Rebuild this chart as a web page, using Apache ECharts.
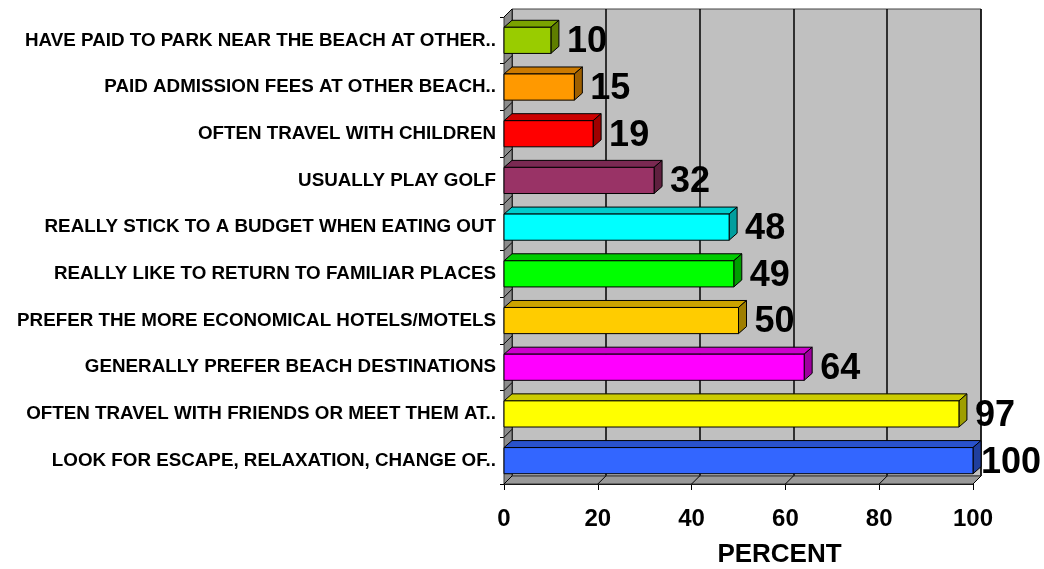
<!DOCTYPE html>
<html><head><meta charset="utf-8">
<script src="https://cdn.jsdelivr.net/npm/echarts@6/dist/echarts.min.js"></script>
<style>html,body{margin:0;padding:0;background:#fff}#c{width:1044px;height:569px}</style>
</head><body><div id="c"></div>
<script>
const categories = [
  "HAVE PAID TO PARK NEAR THE BEACH AT OTHER..",
  "PAID ADMISSION FEES AT OTHER BEACH..",
  "OFTEN TRAVEL WITH CHILDREN",
  "USUALLY PLAY GOLF",
  "REALLY STICK TO A BUDGET WHEN EATING OUT",
  "REALLY LIKE TO RETURN TO FAMILIAR PLACES",
  "PREFER THE MORE ECONOMICAL HOTELS/MOTELS",
  "GENERALLY PREFER BEACH DESTINATIONS",
  "OFTEN TRAVEL WITH FRIENDS OR MEET THEM AT..",
  "LOOK FOR ESCAPE, RELAXATION, CHANGE OF.."
];
const values = [10, 15, 19, 32, 48, 49, 50, 64, 97, 100];
const barColors = ["#99CC00", "#FF9900", "#FF0000", "#993366", "#00FFFF", "#00FF00", "#FFCC00", "#FF00FF", "#FFFF00", "#3366FF"];
const xTicks = [0, 20, 40, 60, 80, 100];
const xMin = 0, xMax = 100, xStep = 20;
const axisTitle = "PERCENT";

const FONT = '"Liberation Sans", Arial, sans-serif';
const DX = 8, DY = 8;      // wall depth
const BDX = 8, BDY = 7;    // bar depth
const chart = echarts.init(document.getElementById('c'), null, {renderer: 'canvas'});

function darken(hex, f) {
  const n = parseInt(hex.slice(1), 16);
  const r = Math.round(((n >> 16) & 255) * f), g = Math.round(((n >> 8) & 255) * f), b = Math.round((n & 255) * f);
  return 'rgb(' + r + ',' + g + ',' + b + ')';
}

function renderFrame(params, api) {
  const band = api.size([0, 1])[1];
  const top = api.coord([0, 0])[1] - band / 2;
  const bottom = api.coord([0, categories.length - 1])[1] + band / 2;
  const x0 = api.coord([xMin, 0])[0];
  const x1 = api.coord([xMax, 0])[0];
  const children = [];
  children.push({type: 'polygon', shape: {points: [[x0, top], [x0 + DX, top - DY], [x0 + DX, bottom - DY], [x0, bottom]]},
    style: {fill: '#8c8c8c', stroke: '#333', lineWidth: 1}});
  children.push({type: 'polygon', shape: {points: [[x0, bottom], [x1, bottom], [x1 + DX, bottom - DY], [x0 + DX, bottom - DY]]},
    style: {fill: '#999999', stroke: '#333', lineWidth: 1}});
  xTicks.forEach(t => {
    const x = api.coord([t, 0])[0];
    children.push({type: 'line', shape: {x1: x, y1: bottom, x2: x + DX, y2: bottom - DY}, style: {stroke: '#000', lineWidth: 1}});
  });
  for (let k = 0; k <= categories.length; k++) {
    const y = top + band * k;
    children.push({type: 'line', shape: {x1: x0, y1: y, x2: x0 + DX, y2: y - DY}, style: {stroke: '#000', lineWidth: 1}});
  }
  return {type: 'group', children};
}

function renderBar(params, api) {
  const v = api.value(0), i = api.value(1);
  const s = api.coord([0, i]);
  const e = api.coord([v, i]);
  const band = api.size([0, 1])[1];
  const h = band * 0.56;
  const y0 = s[1] - h / 2, y1 = s[1] + h / 2;
  const x0 = s[0], x1 = e[0];
  const c = barColors[params.dataIndex];
  const topC = darken(c, 0.8);
  const sideC = darken(c, 0.62);
  const txt = String(v);
  const fs = 36;
  const w = txt.length * 0.556 * fs;
  const lx = Math.min(x1 + BDX + 8, 1041 - w);
  return {type: 'group', children: [
    {type: 'polygon', shape: {points: [[x0, y0], [x1, y0], [x1 + BDX, y0 - BDY], [x0 + BDX, y0 - BDY]]},
      style: {fill: topC, stroke: '#000', lineWidth: 1}},
    {type: 'polygon', shape: {points: [[x1, y0], [x1 + BDX, y0 - BDY], [x1 + BDX, y1 - BDY], [x1, y1]]},
      style: {fill: sideC, stroke: '#000', lineWidth: 1}},
    {type: 'rect', shape: {x: x0, y: y0, width: x1 - x0, height: h},
      style: {fill: c, stroke: '#000', lineWidth: 1}},
    {type: 'text', x: lx, y: s[1] + 2, style: {text: txt, font: 'bold ' + fs + 'px ' + FONT, fill: '#000', align: 'left', verticalAlign: 'middle'}}
  ]};
}

const option = {
  animation: false,
  backgroundColor: '#ffffff',
  grid: [
    {left: 504, top: 17, width: 469, height: 467, containLabel: false, outerBoundsMode: 'none'},
    {left: 504 + DX, top: 17 - DY, width: 469, height: 467, show: true, backgroundColor: '#c0c0c0', borderColor: '#444', borderWidth: 1, z: 0, outerBoundsMode: 'none'}
  ],
  xAxis: [
    {gridIndex: 0, type: 'value', min: xMin, max: xMax, interval: xStep,
      axisLine: {show: true, lineStyle: {color: '#000', width: 1}},
      axisTick: {show: true, length: 6, lineStyle: {color: '#000'}},
      splitLine: {show: false},
      axisLabel: {fontFamily: FONT, fontWeight: 'bold', fontSize: 24, color: '#000', margin: 23},
      name: axisTitle, nameLocation: 'middle', nameGap: 58,
      nameTextStyle: {fontFamily: FONT, fontWeight: 'bold', fontSize: 26, color: '#000', padding: [0, 0, 0, 82]}},
    {gridIndex: 1, type: 'value', min: xMin, max: xMax, interval: xStep,
      axisLine: {show: false}, axisTick: {show: false}, axisLabel: {show: false},
      splitLine: {show: true, lineStyle: {color: '#000', width: 1.5}}}
  ],
  yAxis: [
    {gridIndex: 0, type: 'category', data: categories, inverse: true,
      axisLine: {show: true, lineStyle: {color: '#000', width: 1}},
      axisTick: {show: true, length: 4, lineStyle: {color: '#000'}},
      axisLabel: {fontFamily: FONT, fontWeight: 'bold', fontSize: 18.8, color: '#000', margin: 8}},
    {gridIndex: 1, type: 'value', show: false, splitLine: {show: false}}
  ],
  series: [
    {type: 'custom', xAxisIndex: 0, yAxisIndex: 0, z: 1, data: [[0, 0]], renderItem: renderFrame, silent: true},
    {type: 'custom', xAxisIndex: 0, yAxisIndex: 0, z: 3, data: values.map((v, i) => [v, i]), renderItem: renderBar}
  ]
};
chart.setOption(option);
</script>
</body></html>
